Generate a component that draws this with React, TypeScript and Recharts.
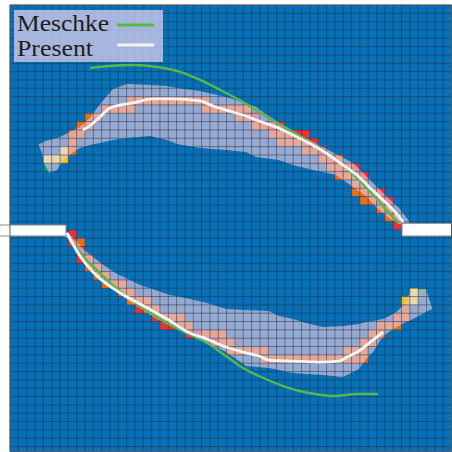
import React from 'react';
import {
  ComposedChart,
  XAxis,
  YAxis,
  Line,
  Area,
  ReferenceArea,
  ReferenceLine,
  Legend,
} from 'recharts';

// Domain measured in mesh cells (x to the right, y downward from the top wall)
const COLS = 53;
const ROWS = 53.6;

const gridCols = Array.from({ length: COLS + 1 }, (_, i) => i);
const gridRows = Array.from({ length: Math.floor(ROWS) + 1 }, (_, i) => i);

const BLUE = '#0670b8';
const GREEN = '#55b84a';
const WHITE = '#f4f4f4';

// Cell colour classes (fraction bins)
const CELL_COLORS: Record<string, string> = {
  R: '#e8323c',
  S: '#ea6d18',
  O: '#ef6c1c',
  Y: '#f6c20c',
  LY: '#fff058',
  T: '#00977c',
};

// [column, row, class]
const upperCells: [number, number, string][] = [
  [4, 19, 'T'], [4, 18, 'LY'], [5, 18, 'LY'], [6, 18, 'Y'], [6, 17, 'LY'], [7, 17, 'O'],
  [7, 16, 'S'], [7, 15, 'S'], [8, 15, 'S'], [8, 14, 'S'], [9, 14, 'S'], [9, 13, 'S'], [10, 13, 'S'],
  [11, 12, 'S'], [12, 12, 'S'], [13, 12, 'S'], [14, 12, 'S'],
  [14, 11, 'S'], [15, 11, 'S'], [16, 11, 'S'], [17, 11, 'S'], [18, 11, 'S'],
  [19, 11, 'S'], [20, 11, 'S'], [21, 11, 'S'], [22, 11, 'S'], [23, 11, 'S'],
  [23, 12, 'S'], [24, 12, 'S'], [25, 12, 'S'], [26, 12, 'S'], [27, 12, 'S'], [28, 12, 'S'],
  [27, 13, 'S'], [28, 13, 'S'], [29, 13, 'R'],
  [29, 14, 'S'], [30, 14, 'S'], [31, 14, 'R'], [32, 14, 'R'],
  [31, 15, 'S'], [32, 15, 'S'], [33, 15, 'S'], [34, 15, 'R'], [35, 15, 'R'],
  [32, 16, 'S'], [33, 16, 'S'], [34, 16, 'S'], [35, 16, 'S'], [36, 16, 'R'],
  [35, 17, 'S'], [36, 17, 'S'], [37, 17, 'R'],
  [37, 18, 'S'], [38, 18, 'S'], [39, 18, 'S'],
  [38, 19, 'S'], [39, 19, 'S'], [40, 19, 'S'], [41, 19, 'R'],
  [39, 20, 'S'], [40, 20, 'S'], [41, 20, 'S'], [42, 20, 'R'],
  [41, 21, 'S'], [42, 21, 'S'],
  [41, 22, 'S'], [42, 22, 'S'], [43, 22, 'S'], [44, 22, 'R'],
  [42, 23, 'S'], [43, 23, 'S'], [44, 23, 'R'], [45, 23, 'R'],
  [44, 24, 'S'], [45, 24, 'S'],
  [45, 25, 'S'], [46, 25, 'S'],
  [46, 26, 'R'],
];

const lowerCells: [number, number, string][] = [
  [7, 27, 'R'], [7, 28, 'R'], [8, 28, 'S'], [8, 29, 'R'], [8, 30, 'R'],
  [9, 30, 'S'], [9, 31, 'S'], [10, 31, 'S'],
  [10, 32, 'S'], [11, 32, 'S'], [11, 33, 'S'], [12, 33, 'S'], [13, 33, 'S'],
  [13, 34, 'S'], [14, 34, 'S'],
  [14, 35, 'S'], [15, 35, 'S'], [16, 35, 'S'], [15, 36, 'R'], [16, 36, 'S'], [17, 36, 'S'],
  [17, 37, 'R'], [18, 37, 'S'], [19, 37, 'S'], [20, 37, 'S'],
  [18, 38, 'R'], [19, 38, 'R'], [20, 38, 'S'], [21, 38, 'S'],
  [21, 39, 'R'], [22, 39, 'R'], [23, 39, 'S'], [24, 39, 'S'], [25, 39, 'S'],
  [24, 40, 'R'], [25, 40, 'S'], [26, 40, 'S'],
  [26, 41, 'S'], [27, 41, 'S'], [28, 41, 'S'], [29, 41, 'S'], [30, 41, 'S'],
  [30, 42, 'S'], [31, 42, 'S'], [32, 42, 'S'], [33, 42, 'S'], [34, 42, 'S'],
  [35, 42, 'S'], [36, 42, 'S'], [37, 42, 'S'], [38, 42, 'S'], [39, 42, 'S'],
  [40, 41, 'S'], [41, 41, 'S'], [42, 41, 'S'], [40, 42, 'S'], [41, 42, 'S'], [42, 42, 'S'],
  [42, 40, 'S'], [43, 40, 'S'],
  [43, 39, 'S'], [44, 39, 'S'],
  [44, 38, 'S'], [45, 38, 'S'], [46, 38, 'S'],
  [46, 37, 'S'], [47, 37, 'S'],
  [47, 36, 'S'],
  [47, 35, 'Y'],
  [48, 35, 'LY'], [48, 34, 'LY'],
  [49, 34, 'T'],
];

// Free-surface envelopes: [x, top, bottom]
const upperEnvelope: [number, number, number][] = [
  [3.48, 16.69, 16.93], [3.84, 16.57, 17.77], [4.2, 16.33, 19.21], [4.68, 16.21, 20.17],
  [5.64, 15.97, 19.81], [6.24, 15.73, 18.85], [7.44, 15.13, 17.77], [8.4, 14.65, 17.17],
  [9.6, 13.57, 16.81], [10.8, 11.88, 16.57], [12.36, 10.08, 16.21], [14.05, 9.48, 15.97],
  [16.81, 9.6, 15.73], [18.85, 9.72, 16.21], [20.05, 9.96, 16.69], [22.81, 10.32, 17.17],
  [25.93, 11.04, 17.41], [28.33, 11.76, 17.65], [29.53, 12.24, 18.25], [32.29, 14.17, 18.61],
  [33.97, 15.13, 19.21], [36.37, 16.45, 19.81], [39.14, 17.89, 20.41], [41.18, 18.97, 21.85],
  [42.74, 20.53, 22.93], [43.94, 21.73, 24.25], [45.5, 23.29, 25.57], [46.7, 24.37, 26.29],
  [47.9, 25.93, 26.41],
];

const lowerEnvelope: [number, number, number][] = [
  [5.76, 27.01, 27.37], [6.84, 27.25, 27.97], [7.8, 28.21, 29.41], [8.76, 29.29, 30.85],
  [9.96, 30.25, 32.29], [11.4, 31.33, 33.49], [12.85, 32.29, 34.45], [14.41, 33.01, 35.65],
  [15.61, 33.61, 36.37], [17.41, 34.21, 37.58], [19.21, 34.81, 38.54], [21.61, 35.29, 39.74],
  [23.65, 35.77, 40.58], [25.93, 36.49, 41.66], [28.33, 36.61, 43.34], [31.09, 36.73, 43.58],
  [32.29, 37.33, 43.82], [33.97, 37.7, 44.18], [35.53, 38.18, 44.3], [37.58, 38.66, 44.42],
  [39.98, 38.54, 44.66], [41.9, 38.3, 43.7], [42.74, 38.06, 42.5], [43.58, 37.94, 41.66],
  [44.78, 37.7, 39.74], [46.22, 36.97, 38.78], [47.3, 36.01, 38.18], [48.14, 34.21, 37.82],
  [49.94, 34.09, 36.85], [50.66, 36.37, 36.49],
];

// Meschke reference profiles
const meschkeUpper: [number, number][] = [
  [9.6, 7.56], [12.0, 7.32], [14.77, 7.2], [17.65, 7.44], [20.41, 8.04], [22.81, 9.0],
  [25.93, 10.56], [27.97, 11.64], [29.89, 12.85], [31.93, 14.05], [33.97, 15.25],
  [35.89, 16.45], [37.94, 17.65], [39.98, 19.21], [41.9, 21.01], [43.94, 23.17],
  [45.5, 24.97], [46.7, 26.17],
];

const meschkeLower: [number, number][] = [
  [6.96, 27.73], [8.76, 30.13], [10.8, 32.17], [12.85, 34.09], [15.61, 36.13],
  [18.85, 38.18], [21.25, 39.38], [23.65, 40.58], [25.93, 42.14], [27.97, 43.58],
  [29.89, 44.54], [33.13, 45.86], [35.89, 46.58], [38.78, 46.94], [41.9, 46.7], [44.18, 46.7],
];

// Present computation
const presentUpper: [number, number][] = [
  [8.76, 15.01], [9.84, 14.29], [10.8, 13.45], [12.0, 12.36], [14.77, 11.76], [17.17, 11.28],
  [19.57, 11.28], [22.81, 11.52], [24.37, 12.12], [25.93, 12.61], [27.97, 13.21],
  [29.89, 13.93], [31.93, 14.65], [33.97, 15.61], [35.89, 16.57], [37.94, 17.77],
  [39.98, 19.21], [41.9, 20.65], [43.1, 21.85], [44.78, 23.41], [46.34, 24.97], [47.18, 26.05],
];

const presentLower: [number, number][] = [
  [6.84, 27.37], [8.4, 30.13], [10.44, 32.53], [12.85, 34.33], [15.61, 35.89], [18.85, 37.7],
  [21.61, 39.38], [23.65, 40.1], [25.93, 41.06], [27.97, 41.66], [29.89, 42.14],
  [31.09, 42.62], [33.97, 42.74], [37.09, 42.86], [39.5, 42.74], [40.7, 42.14],
  [41.9, 41.54], [43.1, 40.58], [44.78, 39.26],
];

// Baffles: [x1, x2, y1, y2]
const baffles: [number, number, number, number][] = [
  [-1.25, 6.72, 26.41, 27.73],
  [47.06, 53.2, 26.21, 27.73],
];

const toPts = (arr: [number, number][]) => arr.map(([x, y]) => ({ x, y }));
const toBand = (arr: [number, number, number][]) =>
  arr.map(([x, top, bottom]) => ({ x, band: [top, bottom] }));

const LEGEND_ITEMS = [
  { label: 'Meschke', color: GREEN, width: 92 },
  { label: 'Present', color: WHITE, width: 76 },
];

const LegendBox = () => (
  <svg width={149} height={52} style={{ display: 'block', overflow: 'visible' }}>
    <rect x={0} y={0} width={149} height={52} fill="rgba(228,212,238,0.72)" />
    {LEGEND_ITEMS.map((it, i) => (
      <g key={it.label}>
        <text
          x={3}
          y={20.5 + i * 25}
          fontFamily='"Liberation Serif", "Times New Roman", serif'
          fontSize={22.5}
          textLength={it.width}
          lengthAdjust="spacingAndGlyphs"
          fill="#1e1e1e"
        >
          {it.label}
        </text>
        <line x1={103} x2={140} y1={15 + i * 20} y2={15 + i * 20} stroke={it.color} strokeWidth={2.8} />
      </g>
    ))}
  </svg>
);

export default function App() {
  return (
    <div style={{ position: 'absolute', left: 0, top: 0, width: 452, height: 452, overflow: 'hidden', background: '#fff' }}>
      <ComposedChart width={452} height={452} margin={{ top: 5, left: 10, right: 0.5, bottom: 0.5 }}>
        <XAxis type="number" dataKey="x" domain={[0, COLS]} allowDataOverflow hide scale="linear" />
        <YAxis type="number" domain={[0, ROWS]} allowDataOverflow reversed hide scale="linear" />

        <ReferenceArea x1={0} x2={COLS} y1={0} y2={ROWS} fill={BLUE} fillOpacity={1} stroke="none" zIndex={-50} />

        {[...upperCells, ...lowerCells].map(([c, r, k], i) => (
          <ReferenceArea
            key={`cell-${i}`}
            x1={c}
            x2={c + 1}
            y1={r}
            y2={r + 1}
            fill={CELL_COLORS[k]}
            fillOpacity={1}
            stroke="none"
            zIndex={-40}
          />
        ))}

        <Area
          data={toBand(upperEnvelope)}
          dataKey="band"
          type="linear"
          stroke="none"
          fill="#e4c8e0"
          fillOpacity={0.65}
          isAnimationActive={false}
          legendType="none"
          zIndex={-30}
        />
        <Area
          data={toBand(lowerEnvelope)}
          dataKey="band"
          type="linear"
          stroke="none"
          fill="#e4c8e0"
          fillOpacity={0.65}
          isAnimationActive={false}
          legendType="none"
          zIndex={-30}
        />

        {gridCols.map((i) => (
          <ReferenceLine key={`gx-${i}`} x={i} stroke="#26323e" strokeOpacity={0.5} strokeWidth={1} zIndex={-20} />
        ))}
        {gridRows.map((j) => (
          <ReferenceLine key={`gy-${j}`} y={j} stroke="#26323e" strokeOpacity={0.5} strokeWidth={1} zIndex={-20} />
        ))}

        {baffles.map(([x1, x2, y1, y2], i) => (
          <ReferenceArea
            key={`baffle-${i}`}
            x1={x1}
            x2={x2}
            y1={y1}
            y2={y2}
            fill="#ffffff"
            fillOpacity={1}
            stroke="#8a8a8a"
            strokeWidth={1}
            ifOverflow="visible"
            zIndex={-10}
          />
        ))}

        <ReferenceArea x1={0} x2={COLS} y1={0} y2={ROWS} fill="none" stroke="#5c5c5c" strokeWidth={1} zIndex={-5} />

        <Line data={toPts(meschkeUpper)} dataKey="y" name="Meschke" type="monotone" stroke={GREEN} strokeWidth={2.4} dot={false} isAnimationActive={false} />
        <Line data={toPts(meschkeLower)} dataKey="y" name="Meschke" type="monotone" stroke={GREEN} strokeWidth={2.4} dot={false} isAnimationActive={false} legendType="none" />
        <Line data={toPts(presentUpper)} dataKey="y" name="Present" type="monotone" stroke={WHITE} strokeWidth={2.8} dot={false} isAnimationActive={false} />
        <Line data={toPts(presentLower)} dataKey="y" name="Present" type="monotone" stroke={WHITE} strokeWidth={2.8} dot={false} isAnimationActive={false} legendType="none" />

        <Legend
          layout="horizontal"
          verticalAlign="middle"
          content={() => <LegendBox />}
          wrapperStyle={{ left: 14, top: 10, width: 149, height: 52 }}
        />
      </ComposedChart>
    </div>
  );
}
